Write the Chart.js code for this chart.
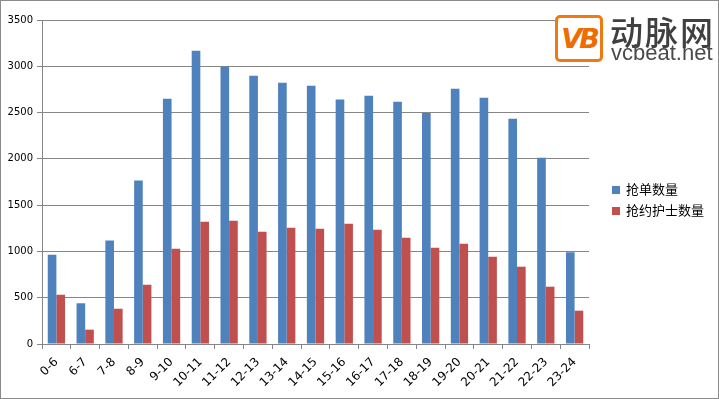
<!DOCTYPE html>
<html>
<head>
<meta charset="utf-8">
<script src="https://cdn.jsdelivr.net/npm/chart.js"></script>
<style>
  html, body { margin: 0; padding: 0; background: #fff; }
  #wrap { position: relative; width: 719px; height: 399px; overflow: hidden; }
  #barChart { position: absolute; left: 0; top: 0; }
  #frame { position: absolute; left: 0; top: 0; width: 719px; height: 399px; box-sizing: border-box; border: 1px solid #8a8a8a; pointer-events: none; }
  #logo { position: absolute; left: 555px; top: 15px; width: 48px; height: 47px; box-sizing: border-box; border: 3px solid #f07a12; border-radius: 5px; background: #fff;
          font-family: "DejaVu Sans", sans-serif; font-weight: bold; font-style: italic; font-size: 27px; color: #ef6c00; text-align: center; line-height: 41px; letter-spacing: -3px; }
  #logoCn { position: absolute; left: 610px; top: 11px; font-family: "Noto Sans CJK SC", sans-serif; font-weight: 500; font-size: 33px; color: #404040; line-height: 40px; letter-spacing: 2px; }
  #logoEn { position: absolute; left: 611px; top: 40px; font-family: "Liberation Sans", Arial, sans-serif; font-size: 22px; color: #4a4a4a; line-height: 26px; }
  .lg { position: absolute; left: 612px; font-family: "Noto Sans CJK SC", sans-serif; font-size: 13px; color: #000; line-height: 16px; }
  .lg span { display: inline-block; width: 8px; height: 8px; margin-right: 6px; vertical-align: 0px; }
</style>
</head>
<body>
<div id="wrap">
  <canvas id="barChart" width="719" height="399"></canvas>
  <div id="logo">VB</div>
  <div id="logoCn">动脉网</div>
  <div id="logoEn">vcbeat.net</div>
  <div class="lg" style="top:181px"><span style="background:#4f81bd"></span>抢单数量</div>
  <div class="lg" style="top:202px"><span style="background:#c0504d"></span>抢约护士数量</div>
  <div id="frame"></div>
</div>
<script>
var hours = ["0-6", "6-7", "7-8", "8-9", "9-10", "10-11", "11-12", "12-13", "13-14", "14-15",
             "15-16", "16-17", "17-18", "18-19", "19-20", "20-21", "21-22", "22-23", "23-24"];
// 抢单数量
var orders = [965, 440, 1118, 1765, 2650, 3168, 2998, 2898, 2822, 2790,
              2640, 2682, 2617, 2495, 2757, 2660, 2433, 2012, 990];
// 抢约护士数量
var nurses = [532, 155, 381, 640, 1029, 1321, 1332, 1213, 1256, 1245,
              1299, 1234, 1148, 1040, 1083, 943, 835, 619, 360];
var yTicks = [0, 500, 1000, 1500, 2000, 2500, 3000, 3500];

var ctx = document.getElementById("barChart").getContext('2d');
var myBarChart = new Chart(ctx, {
  type: 'bar',
  data: {
    labels: hours,
    datasets: [
      {
        label: "抢单数量",
        data: orders,
        backgroundColor: '#4f81bd',
        categoryPercentage: 0.6,
        barPercentage: 1.0
      },
      {
        label: "抢约护士数量",
        data: nurses,
        backgroundColor: '#c0504d',
        categoryPercentage: 0.6,
        barPercentage: 1.0
      }
    ]
  },
  options: {
    responsive: false,
    animation: false,
    layout: { padding: { left: 0, top: 20, right: 130, bottom: 0 } },
    plugins: {
      legend: { display: false },
      tooltip: { enabled: false }
    },
    scales: {
      x: {
        offset: true,
        grid: { display: true, drawOnChartArea: false, offset: true, color: '#868686', tickLength: 5 },
        border: { color: '#868686', width: 1 },
        ticks: {
          color: '#000', minRotation: 45, maxRotation: 45, padding: 6, autoSkip: false,
          font: { family: "DejaVu Sans", size: 12 }
        },
        afterFit: function(scale) { scale.height = 55; }
      },
      y: {
        min: 0, max: 3500,
        afterBuildTicks: function(scale) { scale.ticks = yTicks.map(function(v){ return { value: v }; }); },
        grid: { color: '#868686', tickLength: 5 },
        border: { color: '#868686', width: 1 },
        ticks: {
          color: '#000', padding: 4, font: { family: "DejaVu Sans", size: 10 },
          callback: function(v) { return String(v); }
        },
        afterFit: function(scale) { scale.width = 42; }
      }
    }
  }
});
</script>
</body>
</html>
